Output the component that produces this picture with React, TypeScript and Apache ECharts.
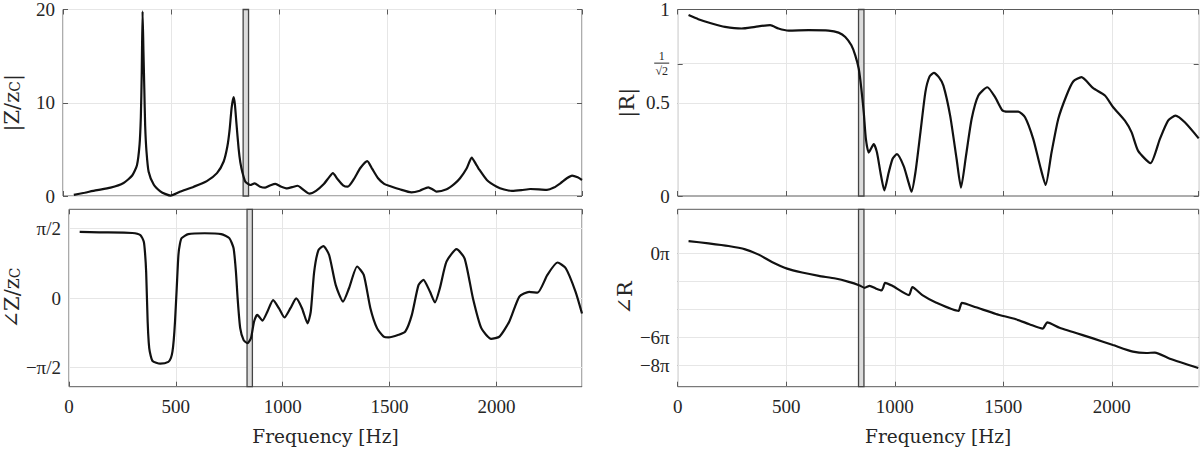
import React, { useEffect, useRef } from "react";
import * as echarts from "echarts";

const PI = Math.PI;

// |Z/zc|
const zMagFreq = [50, 100, 150, 220, 280, 320, 342, 354, 360, 364, 368, 372, 376, 380, 386, 396, 420, 450, 475, 498, 540, 605, 665, 712, 743, 760, 770, 780, 789, 795, 802, 812, 820, 830, 843, 866, 886, 912, 935, 960, 982, 1010, 1036, 1060, 1085, 1110, 1140, 1170, 1205, 1230, 1248, 1270, 1295, 1317, 1345, 1375, 1407, 1430, 1457, 1485, 1511, 1557, 1611, 1650, 1689, 1710, 1727, 1774, 1810, 1836, 1867, 1890, 1910, 1921, 1960, 2006, 2040, 2076, 2120, 2161, 2200, 2238, 2270, 2300, 2330, 2354, 2380, 2400];
const zMag = [0.12, 0.35, 0.6, 0.9, 1.4, 2.2, 3.3, 5.5, 8.5, 13.0, 19.8, 15.5, 11.5, 7.5, 4.8, 2.6, 1.2, 0.5, 0.2, 0.04, 0.45, 1.0, 1.6, 2.45, 3.7, 5.3, 7.0, 9.5, 10.6, 9.8, 7.8, 5.1, 3.6, 2.5, 1.55, 1.18, 1.36, 1.0, 0.9, 1.15, 1.3, 1.0, 0.82, 0.95, 1.1, 0.7, 0.25, 0.55, 1.25, 2.0, 2.45, 1.8, 1.15, 1.0, 1.8, 3.0, 3.75, 2.9, 1.9, 1.3, 1.07, 0.72, 0.39, 0.57, 0.93, 0.7, 0.47, 0.72, 1.3, 1.9, 2.97, 4.12, 3.4, 2.97, 1.72, 1.0, 0.7, 0.54, 0.62, 0.75, 0.72, 0.65, 0.9, 1.36, 1.9, 2.19, 2.0, 1.72];

// angle Z/zc (rad)
const zPhaseFreq = [50, 142, 296, 334, 350, 356, 361, 368, 373, 378, 391, 427, 465, 477, 484, 490, 496, 504, 512, 519, 527, 558, 635, 712, 750, 770, 781, 789, 801, 817, 835, 851, 866, 881, 905, 928, 955, 982, 1008, 1036, 1063, 1090, 1116, 1131, 1147, 1167, 1190, 1217, 1248, 1282, 1310, 1348, 1379, 1410, 1441, 1472, 1495, 1542, 1573, 1604, 1635, 1658, 1689, 1712, 1735, 1766, 1813, 1851, 1890, 1929, 1975, 2014, 2060, 2107, 2153, 2192, 2238, 2285, 2324, 2370, 2400];
const zPhase = [1.49, 1.48, 1.466, 1.42, 1.27, 1.0, 0.59, -0.53, -1.0, -1.21, -1.42, -1.48, -1.44, -1.35, -1.21, -0.95, -0.53, 0.22, 0.97, 1.22, 1.35, 1.44, 1.46, 1.44, 1.35, 1.12, 0.59, -0.01, -0.68, -0.95, -1.02, -0.91, -0.53, -0.38, -0.51, -0.31, -0.05, -0.23, -0.44, -0.23, -0.01, -0.23, -0.57, -0.31, 0.59, 1.08, 1.17, 0.97, 0.29, -0.08, 0.22, 0.71, 0.52, -0.23, -0.68, -0.87, -0.89, -0.83, -0.76, -0.38, 0.29, 0.41, 0.14, -0.1, 0.22, 0.82, 1.1, 0.89, -0.01, -0.68, -0.92, -0.87, -0.53, 0.03, 0.14, 0.12, 0.52, 0.8, 0.67, 0.14, -0.35];

// |R|
const rMagFreq = [50, 95, 157, 218, 295, 357, 426, 464, 511, 603, 695, 741, 772, 800, 818, 834, 846, 857, 867, 880, 903, 918, 934, 952, 972, 990, 1010, 1041, 1064, 1077, 1095, 1118, 1141, 1160, 1180, 1203, 1224, 1255, 1285, 1305, 1328, 1354, 1385, 1426, 1462, 1495, 1515, 1569, 1600, 1638, 1669, 1695, 1722, 1753, 1791, 1822, 1860, 1914, 1968, 2006, 2060, 2091, 2121, 2178, 2221, 2259, 2293, 2336, 2400];
const rMag = [0.97, 0.948, 0.925, 0.907, 0.898, 0.907, 0.916, 0.898, 0.887, 0.889, 0.887, 0.876, 0.853, 0.808, 0.754, 0.682, 0.575, 0.449, 0.305, 0.233, 0.278, 0.233, 0.126, 0.03, 0.126, 0.2, 0.224, 0.16, 0.07, 0.023, 0.126, 0.34, 0.557, 0.64, 0.66, 0.637, 0.592, 0.431, 0.197, 0.045, 0.215, 0.413, 0.539, 0.583, 0.53, 0.46, 0.452, 0.452, 0.422, 0.305, 0.162, 0.059, 0.233, 0.413, 0.539, 0.614, 0.637, 0.578, 0.539, 0.476, 0.404, 0.341, 0.242, 0.176, 0.305, 0.404, 0.431, 0.395, 0.309];

// angle R (rad)
const rPhaseFreq = [50, 142, 234, 311, 373, 434, 504, 573, 650, 727, 788, 835, 861, 884, 912, 939, 947, 955, 989, 1066, 1073, 1081, 1127, 1189, 1294, 1301, 1309, 1374, 1466, 1558, 1620, 1682, 1692, 1702, 1759, 1913, 2005, 2097, 2159, 2198, 2267, 2398];
const rPhase = [2.84, 2.32, 1.72, 0.97, -0.22, -1.87, -3.37, -4.26, -5.01, -5.61, -6.36, -7.11, -7.7, -7.26, -7.85, -8.3, -7.6, -6.58, -7.26, -9.35, -8.5, -7.55, -9.35, -11.0, -12.9, -12.0, -11.1, -12.1, -13.6, -14.8, -15.9, -16.9, -16.2, -15.5, -16.7, -19.1, -20.6, -22.1, -22.4, -22.3, -23.7, -25.8];

// highlighted band (Hz)
const band = [833, 858];

// y ticks
const zPhaseTicks = [-PI / 2, 0, PI / 2];
const rMagTicks = [0, 0.5, Math.SQRT1_2, 1];
const rPhaseTicks = [-8 * PI, -6 * PI, -4 * PI, -2 * PI, 0];
const rPhaseLabelTicks = [-8 * PI, -6 * PI, 0];

const TICK_FONT = "Liberation Serif";
const NAME_FONT = "DejaVu Serif";
const TXT = "#262626";
const GRIDC = "#e6e6e6";
const AXC = "#5a5a5a";

function pairs(f: number[], v: number[]) {
  return f.map((x, i) => [x, v[i]]);
}

function near(a: number, b: number) {
  return Math.abs(a - b) < 1e-6;
}

export default function App() {
  const ref = useRef<HTMLDivElement>(null);
  useEffect(() => {
    if (!ref.current) return;
    const chart = echarts.init(ref.current, undefined, { renderer: "svg" });

    const grids = [
      { left: 62.7, top: 9.5, width: 519.3, height: 186.5 },
      { left: 62.7, top: 209.3, width: 519.3, height: 177.4 },
      { left: 677.7, top: 9.5, width: 521, height: 186.5 },
      { left: 677.7, top: 209.3, width: 521, height: 177.4 },
    ].map((g) => ({ ...g, show: true, borderColor: AXC, borderWidth: 1, backgroundColor: "transparent" }));

    const xAxes: any[] = [];
    for (let i = 0; i < 4; i++) {
      const isBottom = i === 1 || i === 3;
      xAxes.push({
        type: "value",
        gridIndex: i,
        position: "bottom",
        min: 0,
        max: 2400,
        interval: 500,
        axisLine: { show: false, onZero: false },
        axisTick: { inside: true, length: 5, lineStyle: { color: AXC } },
        splitLine: { show: true, lineStyle: { color: GRIDC, width: 1 } },
        axisLabel: {
          show: isBottom,
          showMaxLabel: false,
          margin: 10,
          fontFamily: TICK_FONT,
          fontSize: 19,
          color: TXT,
          formatter: (v: number) => String(v),
        },
        name: isBottom ? "Frequency [Hz]" : "",
        nameLocation: "middle",
        nameGap: 40,
        nameTextStyle: { fontFamily: NAME_FONT, fontSize: 18.5, color: TXT },
      });
      xAxes.push({
        type: "value",
        gridIndex: i,
        position: "top",
        min: 0,
        max: 2400,
        interval: 500,
        axisLine: { show: false, onZero: false },
        axisTick: { inside: true, length: 5, lineStyle: { color: AXC } },
        splitLine: { show: false },
        axisLabel: { show: false },
      });
    }

    const nameRich = {
      t: { fontFamily: NAME_FONT, fontSize: 21, color: TXT },
      s: { fontFamily: NAME_FONT, fontSize: 14, color: TXT, verticalAlign: "bottom", padding: [6, 0, 0, 0] },
    };

    const labelBase = { fontFamily: TICK_FONT, fontSize: 19, color: TXT, margin: 8 };

    const yDefs: any[] = [
      {
        min: 0,
        max: 20,
        interval: 10,
        split: true,
        ticks: null,
        labels: null,
        formatter: (v: number) => String(v),
        name: "{t||Z/z}{s|C}{t||}",
        nameGap: 41,
      },
      {
        min: -2,
        max: 2,
        ticks: zPhaseTicks,
        labels: zPhaseTicks,
        formatter: (v: number) => (near(v, PI / 2) ? "π/2" : near(v, -PI / 2) ? "−π/2" : "0"),
        name: "{t|∠Z/z}{s|C}",
        nameGap: 39,
      },
      {
        min: 0,
        max: 1,
        ticks: rMagTicks,
        labels: rMagTicks,
        formatter: (v: number) =>
          near(v, Math.SQRT1_2) ? "{n|1}\n{b| }\n{d|√2}" : near(v, 0.5) ? "0.5" : String(v),
        name: "{t||R|}",
        nameGap: 40,
      },
      {
        min: -30,
        max: 10,
        ticks: rPhaseTicks,
        labels: rPhaseLabelTicks,
        formatter: (v: number) => {
          const k = Math.round(v / PI);
          return k === 0 ? "0π" : "−" + Math.abs(k) + "π";
        },
        name: "{t|∠R}",
        nameGap: 40,
      },
    ];

    const yAxes: any[] = [];
    yDefs.forEach((d, i) => {
      const tick: any = { inside: true, length: 5, lineStyle: { color: AXC } };
      if (d.ticks) tick.customValues = d.ticks;
      const lab: any = {
        ...labelBase,
        formatter: d.formatter,
        rich: {
          n: { fontFamily: TICK_FONT, fontSize: 12, lineHeight: 11, width: 16, align: "center", color: TXT },
          b: { width: 15, height: 1, lineHeight: 3, fontSize: 1, backgroundColor: TXT, align: "center" },
          d: { fontFamily: TICK_FONT, fontSize: 12, lineHeight: 13, width: 16, align: "center", color: TXT },
        },
      };
      if (d.labels) lab.customValues = d.labels;
      const base: any = {
        type: "value",
        gridIndex: i,
        min: d.min,
        max: d.max,
        axisLine: { show: false, onZero: false },
      };
      if (d.interval) base.interval = d.interval;
      yAxes.push({
        ...base,
        position: "left",
        axisTick: tick,
        axisLabel: lab,
        splitLine: { show: !!d.split, lineStyle: { color: GRIDC, width: 1 } },
        name: d.name,
        nameLocation: "middle",
        nameRotate: 90,
        nameGap: d.nameGap,
        nameTextStyle: { rich: nameRich, fontFamily: NAME_FONT, fontSize: 21, color: TXT },
      });
      yAxes.push({
        ...base,
        position: "right",
        axisTick: { ...tick },
        axisLabel: { show: false },
        splitLine: { show: false },
      });
    });

    const gridLineVals: (number[] | null)[] = [
      null,
      zPhaseTicks,
      [0.5, Math.SQRT1_2],
      rPhaseTicks,
    ];

    const datasets = [
      pairs(zMagFreq, zMag),
      pairs(zPhaseFreq, zPhase),
      pairs(rMagFreq, rMag),
      pairs(rPhaseFreq, rPhase),
    ];

    const series: any[] = datasets.map((data, i) => {
      const s: any = {
        type: "line",
        xAxisIndex: 2 * i,
        yAxisIndex: 2 * i,
        data,
        showSymbol: false,
        smooth: 0.2,
        z: 3,
        lineStyle: { color: "#111111", width: 2.2 },
        markArea: {
          silent: true,
          z: 2,
          itemStyle: { color: "#dcdcdc", borderColor: "#444444", borderWidth: 1.3, opacity: 1 },
          data: [[{ xAxis: band[0] }, { xAxis: band[1] }]],
        },
      };
      const gl = gridLineVals[i];
      if (gl) {
        s.markLine = {
          silent: true,
          z: 1,
          symbol: ["none", "none"],
          label: { show: false },
          lineStyle: { color: GRIDC, width: 1, type: "solid" },
          data: gl.map((v) => ({ yAxis: v })),
        };
      }
      return s;
    });

    chart.setOption({
      animation: false,
      backgroundColor: "#ffffff",
      grid: grids,
      xAxis: xAxes,
      yAxis: yAxes,
      series,
    });
    return () => chart.dispose();
  }, []);

  return (
    <div
      ref={ref}
      style={{ position: "fixed", left: 0, top: 0, width: 1200, height: 451 }}
    />
  );
}
